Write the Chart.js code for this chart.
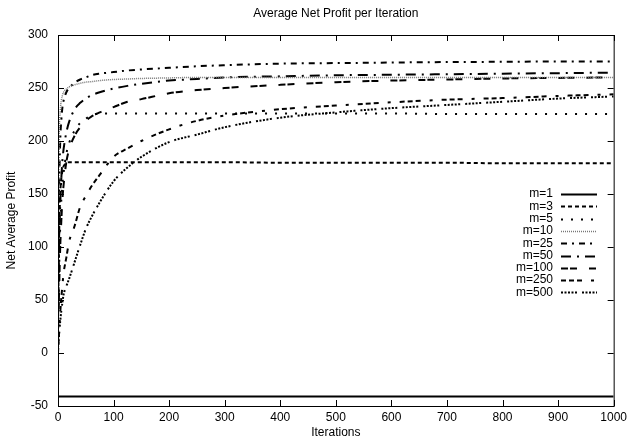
<!DOCTYPE html>
<html>
<head>
<meta charset="utf-8">
<script src="https://cdn.jsdelivr.net/npm/chart.js@4.4.1/dist/chart.umd.min.js"></script>
<style>
  html, body { margin: 0; padding: 0; background: #fff; }
  #wrap { width: 631px; height: 442px; }
</style>
</head>
<body>
<div id="wrap"><canvas id="myChart" width="631" height="442"></canvas></div>
<script>
// iterations
var iters = [0, 2, 4, 6, 8, 10, 15, 20, 30, 40, 50, 60, 75, 100, 125, 150, 200, 250, 300, 400, 500, 600, 700, 800, 900, 1000];

var m1   = [-41, -41, -41, -41, -41, -41, -41, -41, -41, -41, -41, -41, -41, -41, -41, -41, -41, -41, -41, -41, -41, -41, -41, -41, -41, -41];
var m3   = [30, 110, 150, 165, 172, 176, 179, 180, 180, 180, 180, 180, 180, 180, 180, 180, 180, 180, 180, 179.5, 179.5, 179.5, 179.5, 179, 179, 179];
var m5   = [20, 80, 120, 145, 160, 170, 188, 198, 210, 217, 221, 224, 226, 226, 226, 226, 226, 226, 226, 226, 226, 226, 225.5, 225.5, 225.5, 225.5];
var m10  = [80, 200, 228, 238, 243, 246, 249, 251, 253, 254.5, 255.5, 256, 257, 258, 258.5, 259, 259.5, 260, 260, 260, 260, 260, 260, 260, 260, 260];
var m25  = [40, 150, 200, 220, 232, 238, 246, 250, 255, 258, 260, 262, 263.5, 265, 266.5, 267.5, 269, 270.5, 271.5, 273, 273.5, 274, 274.5, 274.7, 275, 275];
var m50  = [30, 100, 140, 165, 182, 192, 208, 218, 230, 236, 240, 243, 246, 249.5, 252, 254, 257, 258.5, 260, 261, 262, 262.5, 263, 263.5, 264, 264.5];
var m100 = [15, 60, 100, 125, 145, 158, 180, 192, 205, 213, 219, 223, 227, 232, 237, 239.5, 245, 248, 250, 253, 255.5, 257, 258, 259, 259.5, 260];
var m250 = [0, 20, 38, 52, 64, 75, 90, 105, 120, 138, 148, 157, 168, 185, 193, 200, 211, 219, 224, 230, 233.5, 236.5, 239, 240.5, 242.5, 244];
var m500 = [5, 18, 30, 40, 48, 55, 63, 70, 86, 102, 117, 128, 142, 162, 175, 185, 199, 206, 213, 222, 227, 231, 234, 237, 240, 242];

var seriesNames = ['m=1', 'm=3', 'm=5', 'm=10', 'm=25', 'm=50', 'm=100', 'm=250', 'm=500'];
var seriesData = [m1, m3, m5, m10, m25, m50, m100, m250, m500];

var xTicks = [0, 100, 200, 300, 400, 500, 600, 700, 800, 900, 1000];
var yTicks = [-50, 0, 50, 100, 150, 200, 250, 300];

var styles = [
  { color: '#000', width: 2,   dash: [] },
  { color: '#000', width: 2,   dash: [4, 3] },
  { color: '#000', width: 2,   dash: [2, 8] },
  { color: '#777', width: 1.5, dash: [1, 1] },
  { color: '#000', width: 2,   dash: [6, 5, 2, 5] },
  { color: '#000', width: 2,   dash: [10, 6, 2, 6] },
  { color: '#000', width: 2,   dash: [7, 2, 7, 12] },
  { color: '#000', width: 2,   dash: [5, 3, 5, 3, 5, 9, 3, 9] },
  { color: '#000', width: 2,   dash: [2, 1.5, 2, 1.5, 2, 1.5, 2, 1.5, 2, 5] }
];

var font = "'Liberation Sans', Arial, sans-serif";

var datasets = seriesData.map(function(vals, i) {
  return {
    label: seriesNames[i],
    data: vals.map(function(v, k) { return { x: iters[k], y: v }; }),
    borderColor: styles[i].color,
    borderWidth: styles[i].width,
    borderDash: styles[i].dash,
    pointRadius: 0,
    fill: false,
    cubicInterpolationMode: 'monotone'
  };
});

var gnuplotFrame = {
  id: 'gnuplotFrame',
  afterDraw: function(chart) {
    var c = chart.ctx;
    var a = chart.chartArea;
    var xs = chart.scales.x, ys = chart.scales.y;
    c.save();
    c.strokeStyle = '#000';
    c.lineWidth = 1;
    c.setLineDash([]);
    c.strokeRect(a.left + 0.5, a.top + 0.5, a.right - a.left, a.bottom - a.top);
    // inward ticks, mirrored
    c.beginPath();
    xTicks.forEach(function(t) {
      var px = Math.round(xs.getPixelForValue(t)) + 0.5;
      c.moveTo(px, a.bottom); c.lineTo(px, a.bottom - 6);
      c.moveTo(px, a.top); c.lineTo(px, a.top + 6);
    });
    yTicks.forEach(function(t) {
      var py = Math.round(ys.getPixelForValue(t)) + 0.5;
      c.moveTo(a.left, py); c.lineTo(a.left + 6, py);
      c.moveTo(a.right, py); c.lineTo(a.right - 6, py);
    });
    c.stroke();

    // title
    c.fillStyle = '#000';
    c.font = '12px ' + font;
    c.textAlign = 'center';
    c.textBaseline = 'middle';
    c.fillText('Average Net Profit per Iteration', (a.left + a.right) / 2, 14);

    // key
    c.font = '12px ' + font;
    c.textAlign = 'right';
    chart.data.datasets.forEach(function(ds, i) {
      var y = 194 + i * 12.3;
      c.fillStyle = '#000';
      c.fillText(ds.label, 553, y);
      c.strokeStyle = ds.borderColor;
      c.lineWidth = ds.borderWidth;
      c.setLineDash(ds.borderDash);
      c.beginPath();
      c.moveTo(561, Math.round(y) + 0.5);
      c.lineTo(597, Math.round(y) + 0.5);
      c.stroke();
    });
    c.restore();
  }
};

var noGrid = { display: true, drawOnChartArea: false, drawTicks: false, tickLength: 0, color: 'rgba(0,0,0,0)' };

var ctx = document.getElementById('myChart');
var myChart = new Chart(ctx, {
  type: 'line',
  data: { datasets: datasets },
  options: {
    responsive: false,
    animation: false,
    layout: { padding: { left: 4, right: 15, top: 35, bottom: 2 } },
    plugins: {
      legend: { display: false },
      title: { display: false },
      tooltip: { enabled: false }
    },
    scales: {
      x: {
        type: 'linear',
        min: 0, max: 1000,
        grid: noGrid,
        border: { display: false },
        afterFit: function(scale) { scale.height = 34; },
        afterBuildTicks: function(scale) { scale.ticks = xTicks.map(function(v) { return { value: v }; }); },
        ticks: { color: '#000', font: { family: font, size: 12 }, padding: 4, maxRotation: 0,
                 callback: function(v) { return String(v); } },
        title: { display: true, text: 'Iterations', color: '#000', font: { family: font, size: 12 }, padding: { top: 0, bottom: 0 } }
      },
      y: {
        min: -50, max: 300,
        grid: noGrid,
        border: { display: false },
        afterFit: function(scale) { scale.width = 54; },
        afterBuildTicks: function(scale) { scale.ticks = yTicks.map(function(v) { return { value: v }; }); },
        ticks: { color: '#000', font: { family: font, size: 12 }, padding: 10,
                 callback: function(v) { return String(v); } },
        title: { display: true, text: 'Net Average Profit', color: '#000', font: { family: font, size: 12 }, padding: { top: 0, bottom: 4 } }
      }
    }
  },
  plugins: [gnuplotFrame]
});
</script>
</body>
</html>
